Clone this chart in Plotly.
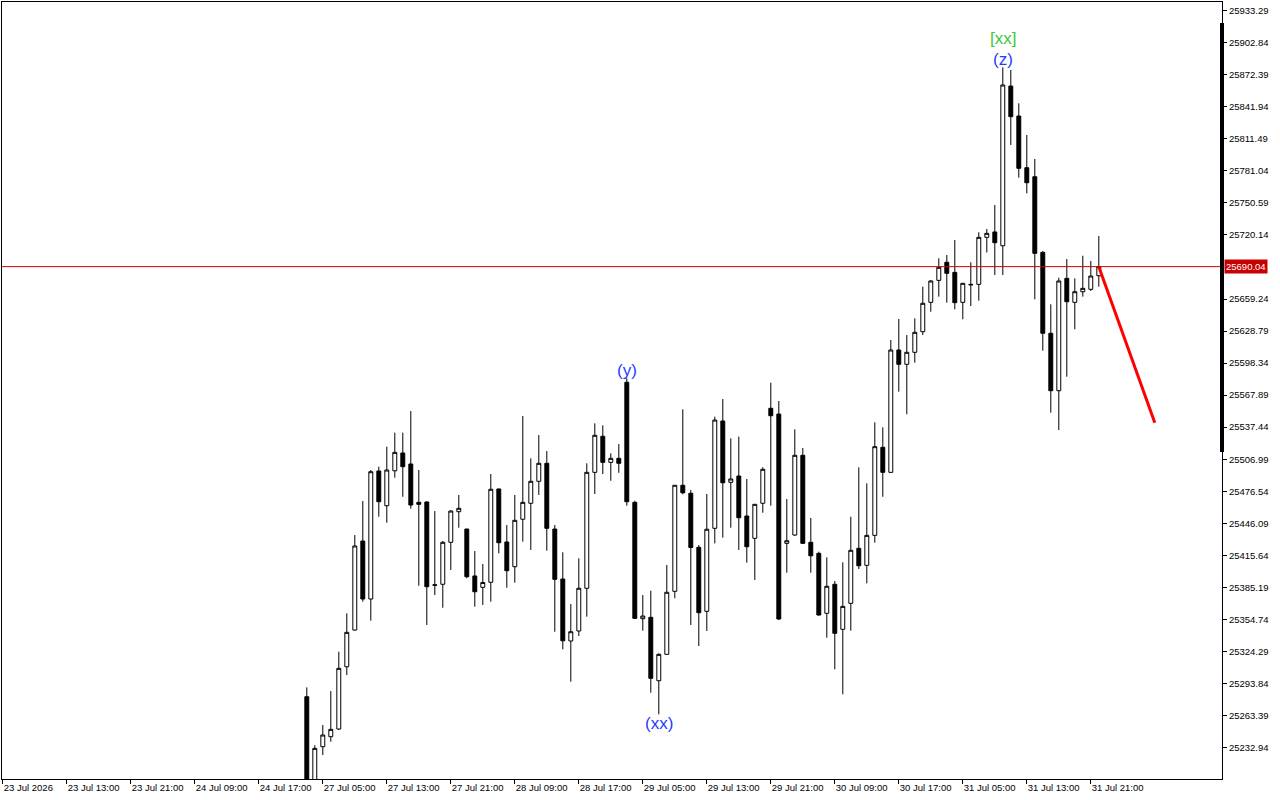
import plotly.graph_objects as go

# ---- data (hourly bars; x = bar index on the chart) ----
bar_index = list(range(38, 138))
open_ = [25281.2, 25192.0, 25233.7, 25243.2, 25250.5, 25309.7, 25344.6, 25429.2, 25374.1, 25495.8,
         25462.8, 25496.0, 25512.9, 25502.4, 25466.0, 25466.3, 25387.6, 25388.1, 25428.0, 25457.1,
         25440.6, 25396.0, 25385.2, 25390.0, 25478.7, 25428.3, 25404.8, 25449.9, 25465.1, 25486.0,
         25503.1, 25440.6, 25393.1, 25334.2, 25343.7, 25384.3, 25494.5, 25528.8, 25504.0, 25507.8,
         25580.1, 25466.0, 25355.4, 25356.7, 25296.4, 25321.5, 25381.4, 25482.2, 25474.6, 25423.2,
         25362.4, 25441.3, 25543.3, 25485.0, 25491.0, 25453.0, 25431.8, 25465.1, 25555.4, 25549.9,
         25427.0, 25434.9, 25510.7, 25428.0, 25417.5, 25360.5, 25388.1, 25345.3, 25370.0, 25422.3,
         25406.1, 25434.6, 25518.3, 25494.5, 25610.8, 25597.2, 25608.6, 25628.2, 25656.1, 25677.0,
         25694.2, 25684.6, 25656.1, 25673.2, 25673.2, 25717.9, 25723.0, 25709.9, 25861.7, 25833.2,
         25784.1, 25775.5, 25703.6, 25626.7, 25572.1, 25678.9, 25656.1, 25666.2, 25668.5, 25681.4]
high = [25290.1, 25235.2, 25254.3, 25286.6, 25324.0, 25360.5, 25434.9, 25467.2, 25496.7, 25499.9,
        25518.9, 25532.2, 25532.2, 25552.8, 25496.7, 25467.0, 25457.7, 25429.2, 25458.5, 25473.0,
        25441.0, 25419.7, 25407.4, 25492.9, 25479.0, 25444.4, 25473.0, 25548.0, 25507.8, 25530.0,
        25514.8, 25444.4, 25418.5, 25369.3, 25412.8, 25503.1, 25541.1, 25539.2, 25512.6, 25521.4,
        25583.9, 25467.5, 25377.9, 25382.0, 25322.5, 25406.4, 25482.5, 25554.4, 25477.7, 25425.4,
        25473.9, 25547.4, 25564.2, 25526.8, 25528.4, 25488.2, 25464.5, 25499.3, 25579.7, 25562.3,
        25469.2, 25535.4, 25517.6, 25451.1, 25419.1, 25413.7, 25391.2, 25409.0, 25452.3, 25499.3,
        25484.1, 25542.1, 25537.3, 25620.3, 25640.3, 25625.0, 25640.9, 25671.0, 25677.3, 25698.0,
        25701.1, 25715.3, 25674.5, 25694.2, 25722.7, 25725.8, 25748.6, 25879.5, 25877.0, 25845.3,
        25815.2, 25792.4, 25704.9, 25654.2, 25679.5, 25697.3, 25678.9, 25700.4, 25695.4, 25719.2]
low = [25180.0, 25185.0, 25225.8, 25238.4, 25249.6, 25301.8, 25344.0, 25371.5, 25353.5, 25452.3,
       25446.6, 25489.4, 25471.3, 25459.9, 25386.7, 25349.4, 25377.9, 25365.8, 25401.7, 25441.9,
       25393.8, 25366.8, 25368.4, 25371.5, 25417.5, 25384.8, 25389.6, 25428.6, 25420.7, 25473.0,
       25420.0, 25343.0, 25326.3, 25295.5, 25338.9, 25357.3, 25473.9, 25492.9, 25486.5, 25494.1,
       25462.8, 25355.1, 25344.0, 25285.0, 25264.5, 25321.0, 25374.8, 25473.6, 25349.4, 25329.4,
       25343.7, 25427.0, 25432.4, 25441.9, 25420.7, 25408.6, 25392.2, 25456.1, 25462.8, 25354.1,
       25399.1, 25434.2, 25426.5, 25399.1, 25358.2, 25337.3, 25307.3, 25283.5, 25344.0, 25402.6,
       25389.0, 25427.6, 25471.3, 25494.0, 25571.2, 25549.7, 25598.7, 25625.0, 25647.2, 25661.5,
       25655.8, 25649.5, 25640.0, 25652.6, 25657.7, 25703.5, 25682.1, 25682.1, 25805.7, 25774.6,
       25759.7, 25659.0, 25610.1, 25551.2, 25534.7, 25585.4, 25630.5, 25661.5, 25666.9, 25671.0]
close = [25190.0, 25232.1, 25244.8, 25250.2, 25308.2, 25342.4, 25424.5, 25374.1, 25495.1, 25466.6,
         25496.7, 25513.5, 25499.9, 25463.4, 25464.1, 25385.8, 25387.2, 25428.0, 25457.7, 25460.3,
         25395.3, 25381.0, 25389.8, 25478.4, 25427.6, 25401.0, 25448.9, 25466.0, 25486.0, 25503.1,
         25441.3, 25392.8, 25334.4, 25343.0, 25384.3, 25494.5, 25529.7, 25504.0, 25507.8, 25503.1,
         25466.6, 25355.7, 25357.9, 25298.7, 25321.5, 25380.5, 25482.2, 25475.1, 25423.1, 25361.1,
         25440.4, 25544.2, 25484.6, 25488.2, 25451.4, 25423.8, 25464.1, 25497.4, 25548.3, 25355.1,
         25429.5, 25510.7, 25427.0, 25415.2, 25358.9, 25386.2, 25341.5, 25367.1, 25420.4, 25405.7,
         25434.6, 25518.9, 25494.5, 25610.8, 25597.2, 25608.6, 25627.6, 25655.2, 25676.4, 25689.4,
         25683.7, 25655.8, 25674.2, 25672.8, 25717.9, 25721.7, 25712.8, 25862.7, 25832.6, 25783.5,
         25769.8, 25702.7, 25626.7, 25572.1, 25676.4, 25656.7, 25666.2, 25669.4, 25681.1, 25690.04]

current_price = 25690.04
projection_x = [137, 144]
projection_y = [25690.04, 25541.6]

tick_positions = [0, 8, 16, 24, 32, 40, 48, 56, 64, 72, 80, 88, 96, 104, 112, 120, 128, 136]
tick_labels = ["23 Jul 2026", "23 Jul 13:00", "23 Jul 21:00", "24 Jul 09:00", "24 Jul 17:00",
               "27 Jul 05:00", "27 Jul 13:00", "27 Jul 21:00", "28 Jul 09:00", "28 Jul 17:00",
               "29 Jul 05:00", "29 Jul 13:00", "29 Jul 21:00", "30 Jul 09:00", "30 Jul 17:00",
               "31 Jul 05:00", "31 Jul 13:00", "31 Jul 21:00"]
price_ticks = [25933.29, 25902.84, 25872.39, 25841.94, 25811.49, 25781.04, 25750.59, 25720.14,
               25659.24, 25628.79, 25598.34, 25567.89, 25537.44, 25506.99, 25476.54, 25446.09,
               25415.64, 25385.19, 25354.74, 25324.29, 25293.84, 25263.39, 25232.94]

wave_labels = [
    {"text": "(y)", "x": 78, "y": 25591.7, "color": "#1f3cff"},
    {"text": "(xx)", "x": 82, "y": 25256.2, "color": "#1f3cff"},
    {"text": "(z)", "x": 125, "y": 25887.4, "color": "#1f3cff"},
    {"text": "[xx]", "x": 125, "y": 25907.3, "color": "#3cc83c"},
]

FONT = "Liberation Sans"
TICK_SIZE = 9.5

fig = go.Figure()
fig.add_trace(go.Candlestick(
    x=bar_index, open=open_, high=high, low=low, close=close,
    increasing=dict(line=dict(color="black", width=1), fillcolor="white"),
    decreasing=dict(line=dict(color="black", width=1), fillcolor="black"),
    whiskerwidth=0, hoverinfo="skip", showlegend=False,
))
fig.add_trace(go.Scatter(
    x=projection_x, y=projection_y, mode="lines",
    line=dict(color="#ff0000", width=3), hoverinfo="skip", showlegend=False,
))

# current price line
fig.add_shape(type="line", xref="paper", x0=0, x1=1, yref="y", y0=current_price, y1=current_price,
              line=dict(color="#d00000", width=1))
# thick scroll bar on the right edge of the plot
fig.add_shape(type="line", xref="paper", x0=1, x1=1, yref="y", y0=25513.8, y1=25921.6,
              line=dict(color="black", width=4))
# price label box
fig.add_annotation(xref="paper", x=1, y=current_price, yref="y", xanchor="left", yanchor="middle",
                   text="25690.04", showarrow=False, xshift=2, bgcolor="#c80000",
                   font=dict(family=FONT, size=TICK_SIZE, color="white"), borderpad=1)

for w in wave_labels:
    fig.add_annotation(x=w["x"], y=w["y"], text=w["text"], showarrow=False,
                       xanchor="center", yanchor="middle",
                       font=dict(family=FONT, size=17, color=w["color"]))

fig.update_layout(
    width=1280, height=800,
    margin=dict(l=2, r=58, t=2, b=21),
    paper_bgcolor="white", plot_bgcolor="white",
    showlegend=False, hovermode=False,
    font=dict(family=FONT, size=TICK_SIZE, color="black"),
    xaxis=dict(
        range=[-0.1, 152.4], rangeslider=dict(visible=False),
        tickmode="array", tickvals=tick_positions, ticktext=tick_labels,
        ticks="outside", ticklen=4, tickcolor="black", ticklabelposition="outside right",
        showgrid=False, zeroline=False, showline=True, linecolor="black", linewidth=1,
        mirror=True, tickfont=dict(family=FONT, size=TICK_SIZE, color="black"),
    ),
    yaxis=dict(
        range=[25203.0, 25941.6], side="right",
        tickmode="array", tickvals=price_ticks, ticktext=[f"{v:.2f}" for v in price_ticks],
        ticks="outside", ticklen=4, tickcolor="black",
        showgrid=False, zeroline=False, showline=True, linecolor="black", linewidth=1,
        mirror=True, tickfont=dict(family=FONT, size=TICK_SIZE, color="black"),
    ),
)

fig.write_html("out.html", config={"displayModeBar": False},
               post_script="document.body.style.margin='0';document.body.style.overflow='hidden';")
